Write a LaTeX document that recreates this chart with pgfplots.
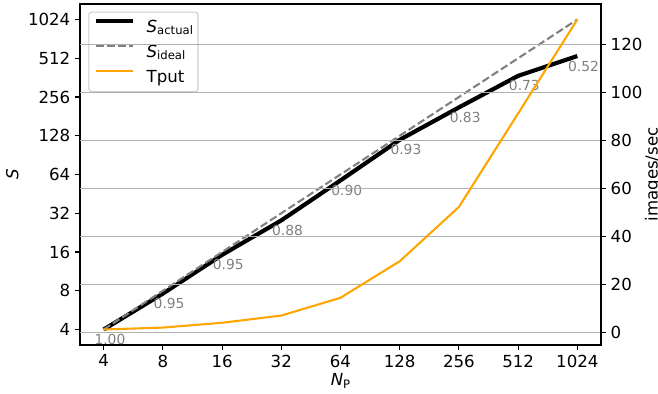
\documentclass[border=0pt]{standalone}
\usepackage{fontspec}
\setmainfont{DejaVu Sans}
\usepackage{pgfplots}
\pgfplotsset{compat=1.18}
\usepackage{pgfplotstable}
\definecolor{tput}{HTML}{FFA500}
\definecolor{gridc}{HTML}{B0B0B0}
\definecolor{legedge}{HTML}{CCCCCC}
\definecolor{effc}{HTML}{808080}

\pgfplotstableread{
N eff lab Sa Si T
4 1.00 1.00 4 4 1.4
8 0.95 0.95 7.6 8 2.2
16 0.95 0.95 15.2 16 4.2
32 0.88 0.88 28.16 32 7.2
64 0.90 0.90 57.6 64 14.6
128 0.93 0.93 119.04 128 29.8
256 0.83 0.83 212.48 256 52.4
512 0.73 0.73 373.76 512 91.3
1024 0.52 0.52 532.48 1024 130.4
}\data

\newcommand{\sub}[1]{\raisebox{-1.6bp}{\fontsize{8.4}{10}\selectfont #1}}

\begin{document}
\begin{tikzpicture}
\path[use as bounding box] (-57.6bp,-35.28bp) rectangle (416.16bp,248.4bp);
\begin{axis}[
  width=375.12bp, height=245.52bp, scale only axis,
  xmode=log, log basis x=2,
  xmin=3.0314, xmax=1351.2,
  tick align=outside,
  major tick length=3.5bp,
  every tick/.style={black, line width=0.8bp},
  tick label style={font=\fontsize{12}{14}\selectfont},
  axis line style={line width=0.8bp},
  at={(0,0)}, anchor=south west,
  ymode=log, log basis y=2,
  ymin=3.0314, ymax=1351.2,
  xtick={4,8,16,32,64,128,256,512,1024},
  xticklabels={4,8,16,32,64,128,256,512,1024},
  ytick={4,8,16,32,64,128,256,512,1024},
  yticklabels={4,8,16,32,64,128,256,512,1024},
  xtick pos=bottom, ytick pos=left,
  minor tick num=0,
  every axis x label/.style={at={(axis description cs:0.5,0)}, anchor=base, yshift=-29.5bp},
  every axis y label/.style={at={(axis description cs:0,0.5)}, xshift=-44.3bp, anchor=base, rotate=90},
  xlabel={\fontsize{12}{14}\selectfont\textit{N}\sub{P}},
  ylabel={\fontsize{12}{14}\selectfont\textit{S}},
  legend style={
    at={(axis description cs:0,1)}, xshift=6bp, yshift=-5.5bp,
    anchor=north west,
    draw=legedge, line width=0.8bp, rounded corners=2bp,
    fill=white, fill opacity=0.8, text opacity=1,
    inner xsep=3.6bp, inner ysep=4bp,
    row sep=4.7bp, column sep=0bp,
    font=\fontsize{12}{14}\selectfont,
    nodes={inner sep=0pt, text height=10.6bp, text depth=2.7bp},
    cells={anchor=west},
  },
  legend image code/.code={\draw[#1] (0bp,4.3bp) -- (27bp,4.3bp); \path (35bp,0bp);},
]
\addplot[black, line width=3bp] table[x=N, y=Sa] {\data};
\addlegendentry{\textit{S}\sub{actual}}
\addplot[effc, line width=1.5bp, dash pattern=on 5.55bp off 2.4bp] table[x=N, y=Si] {\data};
\addlegendentry{\textit{S}\sub{ideal}}
\addlegendimage{tput, line width=1.5bp}
\addlegendentry{Tput}
\addplot[draw=none, mark=none, point meta=explicit symbolic,
  nodes near coords,
  every node near coord/.style={anchor=north west, inner sep=0pt, xshift=-6.8bp, yshift=-3.2bp, text=effc, font=\fontsize{10}{12}\selectfont}]
  table[x=N, y=Sa, meta=lab] {\data};
\end{axis}
\begin{axis}[
  width=375.12bp, height=245.52bp, scale only axis,
  xmode=log, log basis x=2,
  xmin=3.0314, xmax=1351.2,
  tick align=outside,
  major tick length=3.5bp,
  every tick/.style={black, line width=0.8bp},
  tick label style={font=\fontsize{12}{14}\selectfont},
  axis line style={line width=0.8bp},
  /pgf/number format/assume math mode=true,
  at={(0,0)}, anchor=south west,
  ymin=-5.05, ymax=136.85,
  ytick={0,20,40,60,80,100,120},
  axis y line*=right, axis x line=none,
  ymajorgrids, major grid style={gridc, line width=0.8bp},
  every axis y label/.style={at={(axis description cs:1,0.5)}, xshift=40.8bp, anchor=base, rotate=90},
  ylabel={\fontsize{12}{14}\selectfont images/sec},
]
\addplot[tput, line width=1.5bp] table[x=N, y=T] {\data};
\end{axis}
\end{tikzpicture}
\end{document}
